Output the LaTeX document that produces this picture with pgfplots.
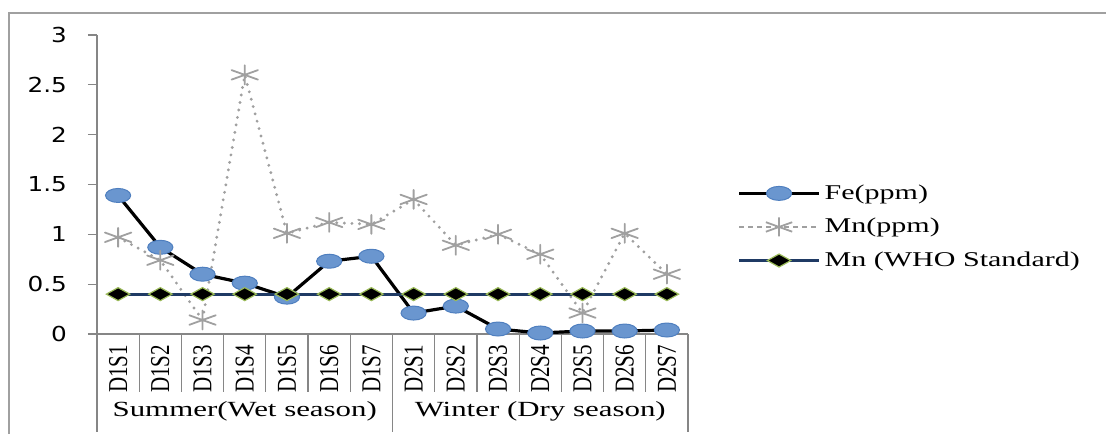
\documentclass[border=0pt]{standalone}
\usepackage{pgfplots}
\pgfplotsset{compat=1.18}
\usepackage{pgfplotstable}
\usepackage{graphicx}
\usepackage{fontspec}
\usetikzlibrary{calc}
\setmainfont{Liberation Serif}
\newfontfamily\legfont{Liberation Serif}[FakeStretch=1.43]
\newfontfamily\catfont{Liberation Serif}
\newfontfamily\tickfont{DejaVu Sans}[FakeStretch=1.2]
\newcommand\legf{\legfont\fontsize{10.5pt}{12.6pt}\selectfont}
\newcommand\grpf{\catfont\fontsize{10.8pt}{13pt}\selectfont}
\newcommand\catf{\catfont\fontsize{10.5pt}{12pt}\selectfont}
\newcommand\tickf{\tickfont\fontsize{10.3pt}{12pt}\selectfont}
\newcommand\cl[1]{\scalebox{1}[1.3]{#1}}
\definecolor{axgray}{HTML}{868686}
\definecolor{frgray}{HTML}{A0A0A0}
\definecolor{fefill}{HTML}{6A96CF}
\definecolor{fedraw}{HTML}{4F7FBF}
\definecolor{mngray}{HTML}{A0A0A0}
\definecolor{whonavy}{HTML}{1F3A64}
\definecolor{whoedge}{HTML}{9BBB59}

\pgfplotstableread{
x Fe Mn WHO
0 1.39 0.97 0.4
1 0.87 0.74 0.4
2 0.60 0.14 0.4
3 0.51 2.60 0.4
4 0.37 1.01 0.4
5 0.73 1.12 0.4
6 0.78 1.10 0.4
7 0.21 1.35 0.4
8 0.28 0.89 0.4
9 0.05 1.00 0.4
10 0.01 0.80 0.4
11 0.03 0.21 0.4
12 0.03 1.01 0.4
13 0.04 0.60 0.4
}\datatable

\begin{document}
\begin{tikzpicture}
\begin{axis}[
  scale only axis, width=295.5pt, height=149.5pt,
  xmin=-0.5, xmax=13.5, ymin=0, ymax=3,
  axis x line*=bottom, axis y line*=left,
  axis line style={draw=axgray, line width=0.6pt, -},
  tick align=outside, major tick length=4.5pt,
  xtick={0,...,13},
  xticklabels={\cl{D1S1},\cl{D1S2},\cl{D1S3},\cl{D1S4},\cl{D1S5},\cl{D1S6},\cl{D1S7},\cl{D2S1},\cl{D2S2},\cl{D2S3},\cl{D2S4},\cl{D2S5},\cl{D2S6},\cl{D2S7}},
  x tick label style={rotate=90, anchor=east, font=\catf},
  xticklabel shift=-2.5pt,
  major x tick style={draw=none},
  minor xtick={0.5,1.5,2.5,3.5,4.5,5.5,7.5,8.5,9.5,10.5,11.5,12.5},
  minor tick length=29pt,
  minor x tick style={draw=axgray, line width=0.6pt},
  extra x ticks={-0.5,6.5,13.5},
  extra x tick labels={},
  extra x tick style={major tick length=49pt, major x tick style={draw=axgray, line width=0.6pt}},
  ytick={0,0.5,...,3},
  y tick style={draw=axgray, line width=0.6pt},
  y tick label style={font=\tickf},
  yticklabel shift=7pt,
  /pgf/number format/assume math mode=true,
  clip=false,
  legend style={at={(axis description cs:1.083,0.358)}, anchor=west, draw=none, fill=none,
    font=\legf, row sep=4pt, inner xsep=0pt, inner ysep=0pt},
  legend cell align=left,
  legend image code/.code={\draw[mark repeat=2,mark phase=2] plot coordinates {(0pt,0pt) (20pt,0pt) (40pt,0pt)};},
]
\addplot[black, line width=1.6pt, mark=*, mark size=3.5pt,
  mark options={xscale=1.8, fill=fefill, draw=fedraw, line width=0.5pt}]
  table[x=x, y=Fe] {\datatable};
\addlegendentry{Fe(ppm)}
\addplot[mngray, line width=1.6pt, line cap=round, dash pattern=on 0pt off 3.8pt,
  mark=asterisk, mark size=4.75pt,
  mark options={xscale=1.6, solid, draw=mngray, line width=0.9pt},
  legend image code/.code={\draw[line width=0.8pt, dash pattern=on 2.5pt off 2pt, line cap=butt, mark repeat=2,mark phase=2] plot coordinates {(0pt,0pt) (20pt,0pt) (40pt,0pt)};}]
  table[x=x, y=Mn] {\datatable};
\addlegendentry{Mn(ppm)}
\addplot[whonavy, line width=1.5pt, mark=diamond*, mark size=3.25pt,
  mark options={xscale=2.4, fill=black, draw=whoedge, line width=0.6pt}]
  table[x=x, y=WHO] {\datatable};
\addlegendentry{Mn (WHO Standard)}
\node[inner sep=0pt] at ($(axis cs:3,0)+(0pt,-38.5pt)$) {\scalebox{1.43}[1]{\grpf Summer(Wet season)}};
\node[inner sep=0pt] at ($(axis cs:10,0)+(0pt,-38.5pt)$) {\scalebox{1.43}[1]{\grpf Winter (Dry season)}};
\coordinate (O) at (axis cs:-0.5,0);
\end{axis}
\path[use as bounding box] ($(O)+(-48.5pt,-49pt)$) rectangle ($(O)+(504.5pt,167pt)$);
\draw[frgray, line width=1pt] ($(O)+(-44pt,-50pt)$) -- ($(O)+(-44pt,160.5pt)$) -- ($(O)+(506pt,160.5pt)$);
\end{tikzpicture}
\end{document}
